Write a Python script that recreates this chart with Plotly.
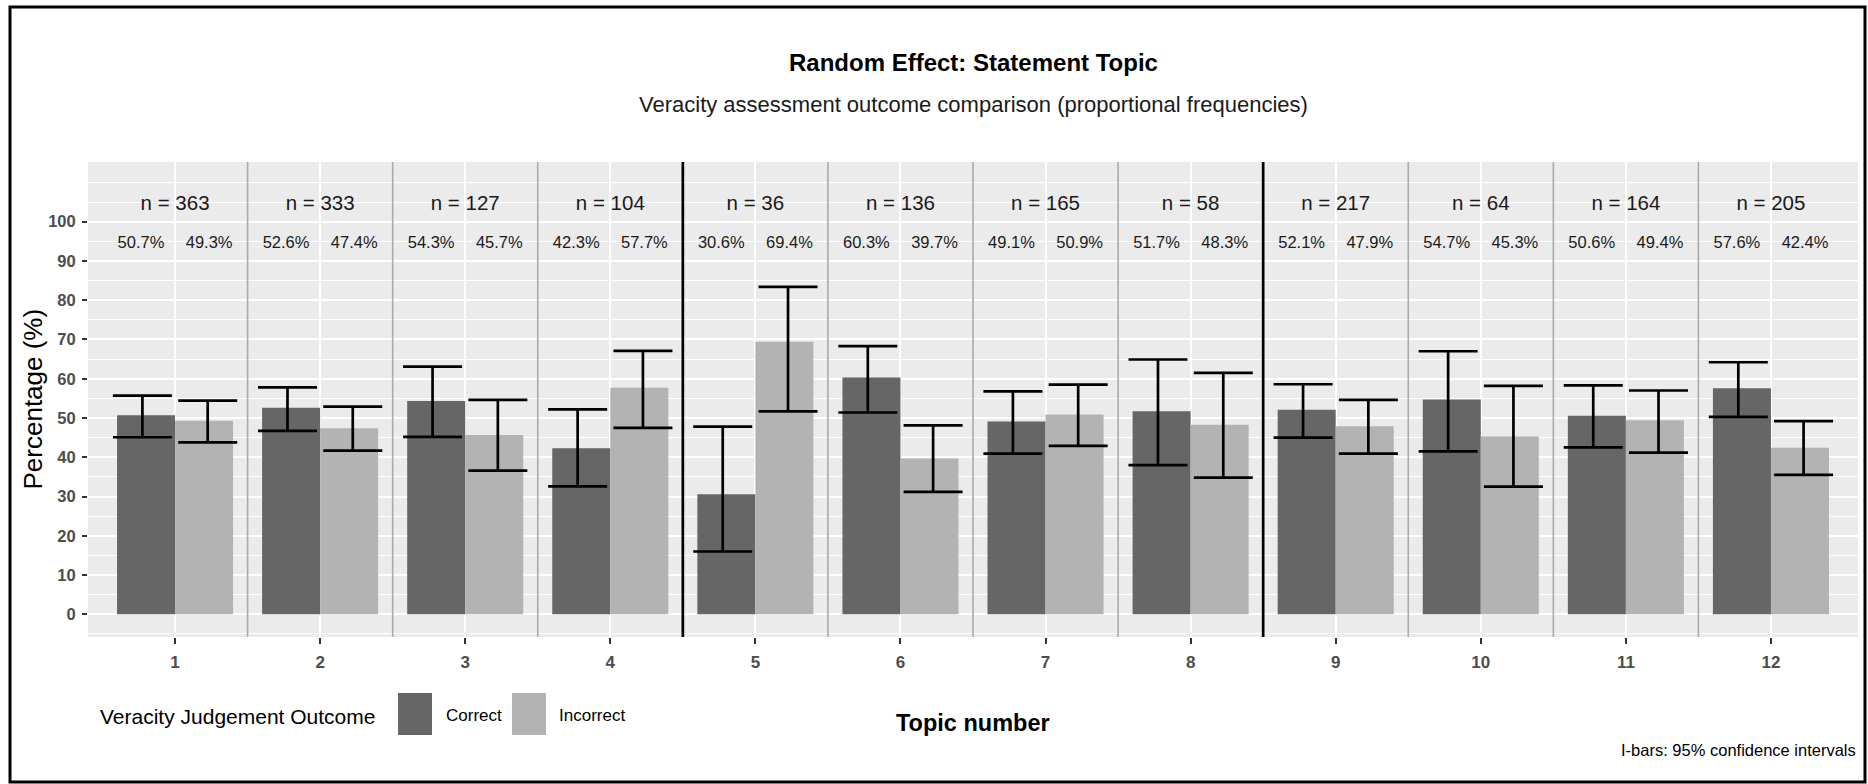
import plotly.graph_objects as go

# ---- data -------------------------------------------------------------
topics = [1, 2, 3, 4, 5, 6, 7, 8, 9, 10, 11, 12]
tick_labels = [str(t) for t in topics]
n_total = [363, 333, 127, 104, 36, 136, 165, 58, 217, 64, 164, 205]

pct_correct = [50.7, 52.6, 54.3, 42.3, 30.6, 60.3, 49.1, 51.7, 52.1, 54.7, 50.6, 57.6]
pct_incorrect = [49.3, 47.4, 45.7, 57.7, 69.4, 39.7, 50.9, 48.3, 47.9, 45.3, 49.4, 42.4]

# 95% confidence interval limits (percent)
ci_correct_low = [45.1, 46.7, 45.2, 32.6, 16.0, 51.4, 40.9, 38.0, 45.0, 41.5, 42.5, 50.3]
ci_correct_high = [55.7, 57.8, 63.1, 52.2, 47.8, 68.3, 56.8, 64.9, 58.6, 67.0, 58.3, 64.2]
ci_incorrect_low = [43.8, 41.7, 36.6, 47.5, 51.7, 31.2, 42.9, 34.8, 40.9, 32.5, 41.2, 35.5]
ci_incorrect_high = [54.4, 52.9, 54.6, 67.1, 83.4, 48.1, 58.5, 61.5, 54.6, 58.2, 57.0, 49.2]

y_tick_values = [0, 10, 20, 30, 40, 50, 60, 70, 80, 90, 100]
block_ends = [4, 8]  # topics after which a block boundary is drawn

# ---- styling ----------------------------------------------------------
FONT = "Liberation Sans, Arial, Helvetica, sans-serif"
DARK = "#666666"
LIGHT = "#b3b3b3"
W, H = 1868, 784
L, R, T, B = 88, 10, 162, 147
PW, PH = W - L - R, H - T - B


def px_x(px):
    return (px - L) / PW


def px_y(py):
    return (H - B - py) / PH


fig = go.Figure()

fig.add_trace(go.Bar(x=topics, y=pct_correct, name="Correct",
                     marker=dict(color=DARK, line=dict(width=0)),
                     showlegend=False))
fig.add_trace(go.Bar(x=topics, y=pct_incorrect, name="Incorrect",
                     marker=dict(color=LIGHT, line=dict(width=0)),
                     showlegend=False))

# confidence interval I-bars, dodged slightly wider than the bars
ebar_dodge = 0.225
for vals, lo, hi, sign in [
    (pct_correct, ci_correct_low, ci_correct_high, -1),
    (pct_incorrect, ci_incorrect_low, ci_incorrect_high, 1),
]:
    fig.add_trace(go.Scatter(
        x=[t + sign * ebar_dodge for t in topics], y=vals, mode="markers",
        marker=dict(size=1, color="rgba(0,0,0,0)"),
        error_y=dict(type="data", symmetric=False,
                     array=[h - v for h, v in zip(hi, vals)],
                     arrayminus=[v - l for v, l in zip(vals, lo)],
                     color="black", thickness=2.7, width=29.5),
        showlegend=False, hoverinfo="skip"))

# percentage labels above each pair
lab_dodge = 0.235
fig.add_trace(go.Scatter(
    x=[t - lab_dodge for t in topics] + [t + lab_dodge for t in topics],
    y=[94.3] * (2 * len(topics)),
    text=[f"{v:.1f}%" for v in pct_correct] + [f"{v:.1f}%" for v in pct_incorrect],
    mode="text", textposition="middle center",
    textfont=dict(family=FONT, size=16.5, color="#1a1a1a"),
    showlegend=False, hoverinfo="skip"))

# sample size labels
fig.add_trace(go.Scatter(
    x=topics, y=[104.2] * len(topics),
    text=[f"n = {n}" for n in n_total],
    mode="text", textposition="middle center",
    textfont=dict(family=FONT, size=20.5, color="#1a1a1a"),
    showlegend=False, hoverinfo="skip"))

shapes = []
# separators between topics; heavier black lines between blocks
for t in topics[:-1]:
    heavy = t in block_ends
    shapes.append(dict(type="line", xref="x", yref="paper",
                       x0=t + 0.5, x1=t + 0.5, y0=0, y1=1, layer="above",
                       line=dict(color="black" if heavy else "#ababab",
                                 width=2.7 if heavy else 1.6)))

# legend keys
for x0, x1, col in [(398, 432, DARK), (512, 546, LIGHT)]:
    shapes.append(dict(type="rect", xref="paper", yref="paper",
                       x0=px_x(x0), x1=px_x(x1), y0=px_y(735), y1=px_y(693),
                       fillcolor=col, line=dict(width=0)))

# outer frame
shapes.append(dict(type="rect", xref="paper", yref="paper",
                   x0=px_x(10), x1=px_x(1865), y0=px_y(782), y1=px_y(7),
                   line=dict(color="black", width=3), fillcolor="rgba(0,0,0,0)"))

annotations = [
    dict(text="<b>Random Effect: Statement Topic</b>", x=0.5, y=px_y(62),
         xref="paper", yref="paper", xanchor="center", yanchor="middle",
         showarrow=False, font=dict(family=FONT, size=24, color="black")),
    dict(text="Veracity assessment outcome comparison (proportional frequencies)",
         x=0.5, y=px_y(105), xref="paper", yref="paper", xanchor="center",
         yanchor="middle", showarrow=False,
         font=dict(family=FONT, size=22, color="#1a1a1a")),
    dict(text="Percentage (%)", x=px_x(32), y=0.5, xref="paper", yref="paper",
         xanchor="center", yanchor="middle", textangle=-90, showarrow=False,
         font=dict(family=FONT, size=26, color="black")),
    dict(text="<b>Topic number</b>", x=0.5, y=px_y(723), xref="paper",
         yref="paper", xanchor="center", yanchor="middle", showarrow=False,
         font=dict(family=FONT, size=23.5, color="black")),
    dict(text="Veracity Judgement Outcome", x=px_x(98), y=px_y(716),
         xref="paper", yref="paper", xanchor="left", yanchor="middle",
         showarrow=False, font=dict(family=FONT, size=21, color="black")),
    dict(text="Correct", x=px_x(444), y=px_y(715), xref="paper", yref="paper",
         xanchor="left", yanchor="middle", showarrow=False,
         font=dict(family=FONT, size=17, color="black")),
    dict(text="Incorrect", x=px_x(557), y=px_y(715), xref="paper", yref="paper",
         xanchor="left", yanchor="middle", showarrow=False,
         font=dict(family=FONT, size=17, color="black")),
    dict(text="I-bars: 95% confidence intervals", x=1.0, y=px_y(750),
         xref="paper", yref="paper", xanchor="right", yanchor="middle",
         showarrow=False, font=dict(family=FONT, size=16.5, color="black")),
]

fig.update_layout(
    width=W, height=H,
    margin=dict(l=L, r=R, t=T, b=B, autoexpand=False),
    paper_bgcolor="white", plot_bgcolor="#EBEBEB",
    barmode="group", bargap=0.2, bargroupgap=0,
    shapes=shapes, annotations=annotations,
    showlegend=False,
    font=dict(family=FONT),
    xaxis=dict(range=[0.4, 12.6], tickmode="array", tickvals=topics,
               ticktext=tick_labels, showgrid=True, gridcolor="white",
               gridwidth=2, zeroline=False, showline=False,
               ticks="outside", ticklen=6, tickwidth=2, tickcolor="#333333",
               ticklabelstandoff=4,
               tickfont=dict(family=FONT, size=17, color="#4d4d4d",
                             weight="bold")),
    yaxis=dict(range=[-5.78, 115.2], tickmode="array", tickvals=y_tick_values,
               ticktext=[str(v) for v in y_tick_values], showgrid=True,
               gridcolor="white", gridwidth=2, zeroline=False, showline=False,
               ticks="outside", ticklen=5, tickwidth=2, tickcolor="#333333",
               ticklabelstandoff=3,
               minor=dict(dtick=5, tick0=0, showgrid=True, gridcolor="white",
                          gridwidth=1.1, ticks=""),
               tickfont=dict(family=FONT, size=16.5, color="#4d4d4d",
                             weight="bold")),
)

fig.write_html("out.html")
